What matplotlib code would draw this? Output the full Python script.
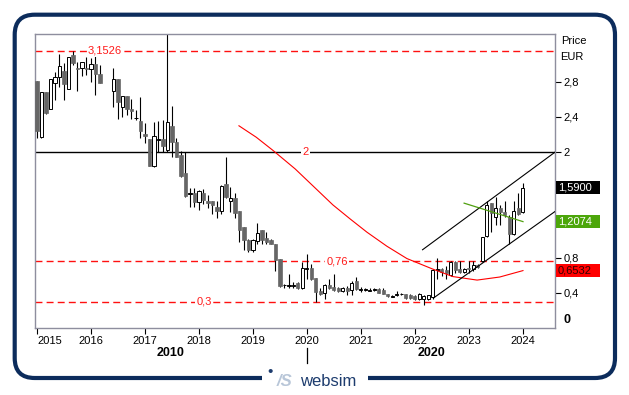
import matplotlib.pyplot as plt
import matplotlib.patches as mpatches
import matplotlib.transforms as mtransforms
from matplotlib.lines import Line2D

plt.rcParams['font.family'] = ['Liberation Sans', 'DejaVu Sans']

# velas mensuales desde enero 2015 (None = mes sin dato)
apertura = [2.81, 2.17, 2.68, 2.49, 2.79, 2.85, 2.92, 2.72, 3.10, 2.96, 2.96, 2.96, 2.95, 3.00, 2.89, None, None,
            2.70, 2.83, 2.51, 2.64, 2.49, 2.385, 2.35, 2.21, 2.15, 1.84, 2.14, 2.15, 2.02, 2.30, 2.12, 1.97, 1.76,
            1.525, 1.54, 1.43, 1.53, 1.44, 1.44, 1.38, 1.33, 1.64, 1.45, 1.48, 1.33, 1.15, 1.00, 0.89, 0.99, 1.12,
            1.02, 1.00, 0.96, 0.78, 0.485, 0.48, 0.48, 0.51, 0.45, 0.67, 0.68, 0.57, 0.42, 0.40, 0.49, 0.47, 0.45,
            0.42, 0.45, 0.43, 0.53, 0.435, 0.435, 0.425, 0.435, 0.44, 0.43, 0.39, 0.355, 0.37, 0.385, 0.39, 0.37,
            0.36, 0.33, 0.33, 0.33, 0.35, 0.665, 0.67, 0.66, 0.60, 0.75, 0.67, 0.64, 0.68, 0.67, 0.72, 0.76, 1.05,
            1.42, 1.26, 1.37, 1.32, 1.26, 1.07, 1.36, 1.32]
maximo = [2.81, 2.68, 2.68, 2.83, 2.91, 3.12, 3.01, 3.08, 3.15, 3.03, 3.03, 3.08, 3.07, 3.09, 2.99, None, None,
          2.96, 2.83, 2.64, 2.64, 2.61, 2.48, 2.63, 2.33, 2.15, 2.34, 2.35, 2.37, 3.60, 2.53, 2.16, 2.01, 2.00,
          1.59, 1.59, 1.57, 1.58, 1.51, 1.44, 1.44, 1.63, 1.95, 1.60, 1.53, 1.33, 1.15, 1.01, 1.01, 1.19, 1.12,
          1.09, 1.01, 0.96, 0.78, 0.50, 0.61, 0.52, 0.52, 0.75, 0.84, 0.73, 0.57, 0.46, 0.50, 0.56, 0.61, 0.47,
          0.47, 0.48, 0.54, 0.58, 0.47, 0.45, 0.45, 0.46, 0.46, 0.46, 0.39, 0.37, 0.42, 0.40, 0.39, 0.39,
          0.37, 0.40, 0.37, 0.38, 0.67, 0.80, 0.68, 0.70, 0.76, 0.76, 0.76, 0.68, 0.76, 0.76, 0.73, 1.04, 1.45,
          1.42, 1.49, 1.40, 1.44, 1.28, 1.44, 1.53, 1.65]
minimo = [2.16, 2.16, 2.43, 2.49, 2.59, 2.74, 2.59, 2.72, 2.99, 2.70, 2.87, 2.88, 2.80, 2.65, 2.79, None, None,
          2.51, 2.38, 2.40, 2.42, 2.38, 2.37, 2.16, 2.10, 1.84, 1.83, 2.00, 2.00, 2.00, 1.95, 1.94, 1.72, 1.49,
          1.38, 1.38, 1.34, 1.41, 1.36, 1.30, 1.25, 1.30, 1.48, 1.32, 1.25, 0.98, 0.89, 0.87, 0.87, 0.95, 0.96,
          0.96, 0.95, 0.65, 0.47, 0.45, 0.45, 0.45, 0.44, 0.44, 0.56, 0.55, 0.30, 0.37, 0.33, 0.44, 0.42, 0.41,
          0.41, 0.38, 0.37, 0.43, 0.41, 0.42, 0.42, 0.42, 0.40, 0.39, 0.35, 0.35, 0.36, 0.37, 0.33, 0.33,
          0.32, 0.32, 0.26, 0.32, 0.33, 0.56, 0.59, 0.56, 0.59, 0.63, 0.63, 0.63, 0.62, 0.65, 0.68, 0.75, 1.04,
          1.09, 1.17, 1.17, 1.26, 0.96, 1.06, 1.29, 1.31]
cierre = [2.24, 2.68, 2.45, 2.83, 2.85, 2.98, 2.78, 3.08, 3.01, 2.95, 3.02, 2.95, 3.00, 2.89, 2.79, None, None,
          2.83, 2.57, 2.64, 2.49, 2.47, 2.39, 2.24, 2.18, 1.84, 2.18, 2.15, 2.07, 2.34, 2.11, 1.95, 1.73, 1.50,
          1.53, 1.43, 1.56, 1.46, 1.42, 1.40, 1.33, 1.62, 1.49, 1.48, 1.31, 1.11, 1.00, 0.89, 1.00, 1.08, 1.00,
          0.98, 0.96, 0.77, 0.48, 0.49, 0.49, 0.485, 0.45, 0.68, 0.68, 0.56, 0.41, 0.39, 0.49, 0.45, 0.43, 0.42,
          0.46, 0.42, 0.51, 0.44, 0.44, 0.44, 0.43, 0.44, 0.40, 0.39, 0.36, 0.36, 0.39, 0.39, 0.34, 0.34,
          0.33, 0.39, 0.36, 0.37, 0.66, 0.67, 0.64, 0.62, 0.75, 0.66, 0.64, 0.67, 0.67, 0.72, 0.69, 1.03, 1.40,
          1.31, 1.36, 1.32, 1.28, 1.07, 1.33, 1.30, 1.59]
meses = [2015 + i / 12 for i in range(len(cierre))]

# media movil (roja)
media_x = [2018.74, 2019.06, 2019.37, 2019.78, 2020.19, 2020.48, 2020.80, 2021.11, 2021.48, 2021.85,
           2022.33, 2022.70, 2023.15, 2023.57, 2024.0]
media_y = [2.30, 2.17, 2.02, 1.81, 1.57, 1.40, 1.24, 1.09, 0.93, 0.79, 0.67, 0.585, 0.545, 0.58, 0.653]

# canal alcista y linea verde
canal_sup_x = [2022.14, 2024.593]
canal_sup_y = [0.89, 2.0]
canal_inf_x = [2022.34, 2024.593]
canal_inf_y = [0.34, 1.325]
verde_x = [2022.91, 2024.0]
verde_y = [1.42, 1.21]

# niveles horizontales: valor, texto, posicion del texto
niveles = [(3.1526, '3,1526', 2016.26), (0.76, '0,76', 2020.56), (0.3, '0,3', 2018.09)]

# cajas de precio a la derecha
cajas = [(1.60, '1,5900', 'black', 'white'), (1.2074, '1,2074', '#4ca60a', 'white'),
         (0.6532, '0,6532', '#ff0000', '#300000')]

W, H = 629, 395
fig = plt.figure(figsize=(W / 100, H / 100), dpi=100)
ax = fig.add_axes([35 / W, 1 - 328 / H, 520 / W, 294 / H])

# velas
for x, o, h, l, c in zip(meses, apertura, maximo, minimo, cierre):
    if o is None:
        continue
    ax.vlines(x, l, h, color='black', linewidth=0.8, zorder=2)
    alto = max(abs(c - o), 0.006)
    if c >= o:
        ax.bar(x, alto, bottom=min(o, c), width=0.056, color='white', edgecolor='black', linewidth=0.7, zorder=3)
    else:
        ax.bar(x, alto, bottom=min(o, c), width=0.056, color='#666666', edgecolor='#666666', linewidth=0.5, zorder=3)

# niveles
for valor, texto, xt in niveles:
    ax.axhline(valor, color='#ff1010', linewidth=1.0, dashes=(5, 3), zorder=1)
    ax.text(xt, valor, texto, color='#ff1a1a', fontsize=8, ha='center', va='center', zorder=4,
            bbox=dict(facecolor='white', edgecolor='none', pad=1))
ax.axhline(2.0, color='black', linewidth=1.0, zorder=1)
ax.text(2019.98, 2.0, '2', color='#ff1a1a', fontsize=8, ha='center', va='center', zorder=4,
        bbox=dict(facecolor='white', edgecolor='none', pad=1))

ax.plot(media_x, media_y, color='#ff0000', linewidth=0.8, zorder=4)
ax.plot(canal_sup_x, canal_sup_y, color='black', linewidth=0.8, zorder=4)
ax.plot(canal_inf_x, canal_inf_y, color='black', linewidth=0.8, zorder=4)
ax.plot(verde_x, verde_y, color='#50a010', linewidth=0.9, zorder=4)

ax.set_xlim(2014.963, 2024.593)
ax.set_ylim(0, 3.344)

# ejes
ax.set_xticks(range(2015, 2025))
ax.set_xticklabels([str(a) for a in range(2015, 2025)])
ax.get_xticklabels()[0].set_ha('left')
ax.tick_params(axis='x', length=4, width=0.8, labelsize=8, pad=2)
ax.yaxis.tick_right()
ax.set_yticks([0.4, 0.8, 2.0, 2.4, 2.8])
ax.set_yticklabels(['0,4', '0,8', '2', '2,4', '2,8'])
ax.tick_params(axis='y', length=4, width=0.8, labelsize=8, pad=2)
for s in ax.spines.values():
    s.set_color('#8e8e9e')
    s.set_linewidth(1.0)

trans = mtransforms.blended_transform_factory(ax.transAxes, ax.transData)
for valor, texto, fondo, letra in cajas:
    ax.add_patch(mpatches.Rectangle((1.002, valor - 0.075), 0.085, 0.15, transform=trans,
                                    facecolor=fondo, edgecolor='none', clip_on=False, zorder=5))
    ax.text(1.006, valor, texto, transform=trans, color=letra, fontsize=8, ha='left', va='center',
            clip_on=False, zorder=6)

fig.text(561 / W, 1 - 41 / H, 'Price', fontsize=8, va='center')
fig.text(560 / W, 1 - 57 / H, 'EUR', fontsize=8, va='center')
fig.text(563 / W, 1 - 320 / H, '0', fontsize=9, fontweight='bold', va='center')

fig.text(171 / W, 1 - 353 / H, '2010', fontsize=9, fontweight='bold', ha='center', va='center')
fig.text(431 / W, 1 - 353 / H, '2020', fontsize=9, fontweight='bold', ha='center', va='center')
fig.add_artist(Line2D([307 / W, 307 / W], [1 - 348 / H, 1 - 363 / H], color='black', linewidth=0.9))

# marco redondeado y logo
ident = mtransforms.IdentityTransform()
fig.add_artist(mpatches.FancyBboxPatch((14.7, 17), 600.3, 363.3, boxstyle='round,pad=0,rounding_size=20',
                                       transform=ident, fill=False, edgecolor='#0c2c5c', linewidth=3.0))
fig.add_artist(mpatches.Rectangle((262, 8), 106, 18, transform=ident, facecolor='white', edgecolor='none'))
fig.text(270 / W, 1 - 372 / H, '•', fontsize=11, color='#1d3c6e', ha='center', va='center')
fig.text(285 / W, 1 - 381 / H, '/S', fontsize=12, fontweight='bold', fontstyle='italic',
         color='#b8c6d8', ha='center', va='center')
fig.text(300 / W, 1 - 381 / H, 'websim', fontsize=12, color='#1d3c6e', ha='left', va='center')

fig.savefig('out.png', dpi=100)
